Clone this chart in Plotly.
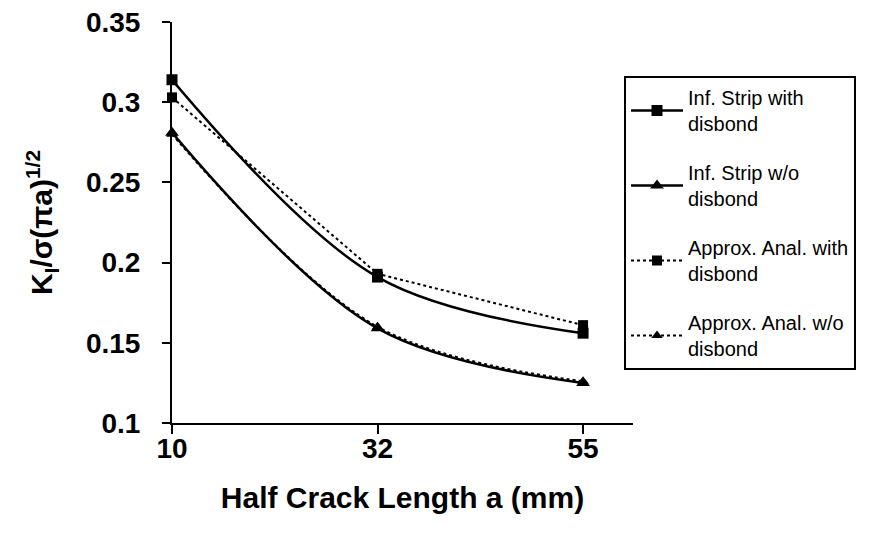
import plotly.graph_objects as go

categories = ["10", "32", "55"]
inf_with = [0.314, 0.191, 0.156]
inf_without = [0.281, 0.159, 0.125]
approx_with = [0.303, 0.193, 0.161]
approx_without = [0.280, 0.160, 0.126]
names = [
    "Inf. Strip with<br>disbond",
    "Inf. Strip w/o<br>disbond",
    "Approx. Anal. with<br>disbond",
    "Approx. Anal. w/o<br>disbond",
]
yticks = [0.1, 0.15, 0.2, 0.25, 0.3, 0.35]
ytick_text = ["0.1", "0.15", "0.2", "0.25", "0.3", "0.35"]

fig = go.Figure()
fig.add_trace(go.Scatter(
    x=categories, y=inf_with, name=names[0], mode="lines+markers",
    line=dict(color="black", width=2.5, shape="spline", smoothing=1),
    marker=dict(symbol="square", size=11, color="black"),
    cliponaxis=False, legendgroup="a"))
fig.add_trace(go.Scatter(
    x=categories, y=inf_without, name=names[1], mode="lines+markers",
    line=dict(color="black", width=2.5, shape="spline", smoothing=1),
    marker=dict(symbol="triangle-up", size=12, color="black"),
    cliponaxis=False, legendgroup="b"))
fig.add_trace(go.Scatter(
    x=categories, y=approx_with, name=names[2], mode="lines+markers",
    line=dict(color="black", width=2, dash="dot"),
    marker=dict(symbol="square", size=10, color="black"),
    cliponaxis=False, legendgroup="c"))
fig.add_trace(go.Scatter(
    x=categories, y=approx_without, name=names[3], mode="lines+markers",
    line=dict(color="black", width=2, dash="dot", shape="spline", smoothing=1),
    marker=dict(symbol="triangle-up", size=10, color="black"),
    cliponaxis=False, legendgroup="d"))

FAM = "Liberation Sans, Arial"

fig.update_layout(
    width=869, height=534,
    margin=dict(l=164, r=244, t=14, b=119),
    paper_bgcolor="white", plot_bgcolor="white",
    font=dict(family=FAM, color="black"),
    showlegend=True,
    legend=dict(
        x=(616 - 164) / 461, y=(415 - 68) / 401, xanchor="left", yanchor="top",
        bgcolor="white", bordercolor="black", borderwidth=2,
        font=dict(family=FAM, size=20, color="black"),
        tracegroupgap=20, itemwidth=52,
    ),
    xaxis=dict(
        type="category", range=[0, 2.243], automargin=False,
        showline=True, linecolor="black", linewidth=2,
        ticks="outside", ticklen=9, tickwidth=2, tickcolor="black",
        showgrid=False, zeroline=False, ticklabelstandoff=-10,
        ticklabeloverflow="allow",
        tickfont=dict(family=FAM, size=28, color="black", weight="bold"),
        title=dict(text="<b>Half Crack Length a (mm)</b>",
                   font=dict(family=FAM, size=30, color="black"),
                   standoff=24),
    ),
    yaxis=dict(
        range=[0.1, 0.35], tickvals=yticks, ticktext=ytick_text, automargin=False,
        showline=True, linecolor="black", linewidth=2,
        ticks="outside", ticklen=8, tickwidth=2, tickcolor="black",
        showgrid=False, zeroline=False, ticklabelstandoff=16,
        ticklabeloverflow="allow",
        tickfont=dict(family=FAM, size=28, color="black", weight="bold"),
        title=dict(text="<b>K<sub>I</sub>/σ(πa)<sup>1/2</sup></b>",
                   font=dict(family=FAM, size=30, color="black"),
                   standoff=24),
    ),
)

fig.write_html("out.html")
